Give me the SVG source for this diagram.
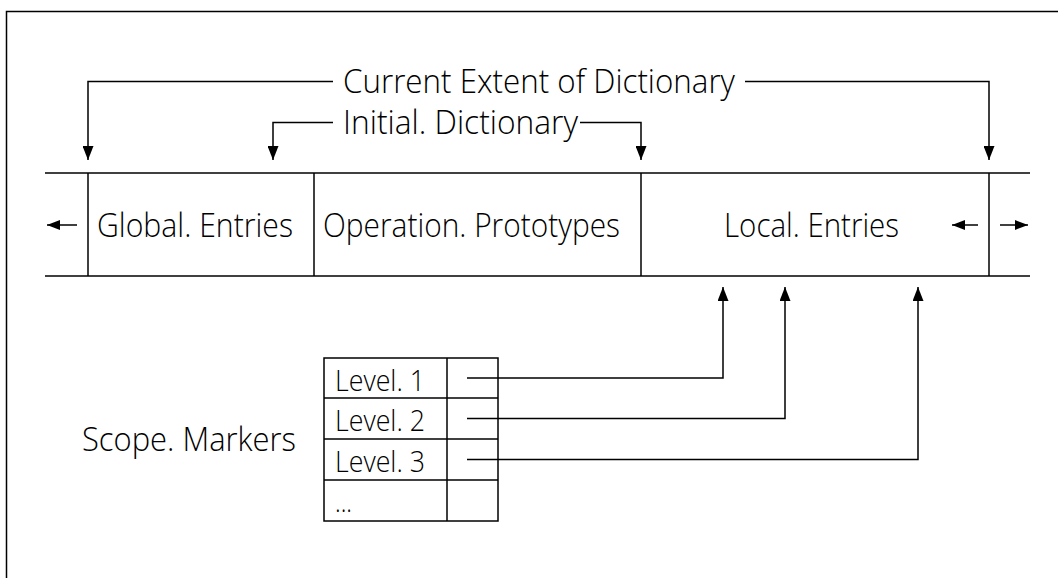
<svg xmlns="http://www.w3.org/2000/svg" width="1058" height="578" viewBox="0 0 1058 578">
<style>
.ln{stroke:#000;stroke-width:1.5;fill:none}
.tx{font-family:"Open Sans","Liberation Sans",sans-serif;font-size:33px;fill:#000;font-weight:300}
.lv{font-size:29px}
</style>
<defs>
<marker id="ah" markerWidth="14" markerHeight="11" refX="14" refY="5.5" viewBox="0 0 14 11" orient="auto" markerUnits="userSpaceOnUse">
<path d="M0,0 L14,5.5 L0,11 Z" fill="#000"/>
</marker>
<marker id="ahs" markerWidth="13" markerHeight="10" refX="13" refY="5" viewBox="0 0 13 10" orient="auto" markerUnits="userSpaceOnUse">
<path d="M0,0 L13,5 L0,10 Z" fill="#000"/>
</marker>
</defs>
<rect width="1058" height="578" fill="#fff"/>
<g id="frame">
<path class="ln" d="M6.5,578 V11.5 H1058"/>
</g>
<g id="dictionary">
<line class="ln" x1="45" y1="173" x2="1030" y2="173"/>
<line class="ln" x1="45" y1="276" x2="1030" y2="276"/>
<line class="ln" x1="88" y1="173" x2="88" y2="276"/>
<line class="ln" x1="314" y1="173" x2="314" y2="276"/>
<line class="ln" x1="641" y1="173" x2="641" y2="276" stroke-width="1"/>
<line class="ln" x1="989" y1="173" x2="989" y2="276"/>
</g>
<g id="global-entries"><text class="tx" x="97" y="237" textLength="196" lengthAdjust="spacingAndGlyphs">Global. Entries</text></g>
<g id="operation-prototypes"><text class="tx" x="323" y="237" textLength="297" lengthAdjust="spacingAndGlyphs">Operation. Prototypes</text></g>
<g id="local-entries"><text class="tx" x="724" y="237" textLength="175" lengthAdjust="spacingAndGlyphs">Local. Entries</text></g>
<g id="current-extent-label"><text class="tx" x="343" y="93" textLength="392" lengthAdjust="spacingAndGlyphs">Current Extent of Dictionary</text></g>
<g id="initial-dictionary-label"><text class="tx" x="343" y="134" textLength="235" lengthAdjust="spacingAndGlyphs">Initial. Dictionary</text></g>
<g id="scope-markers-label"><text class="tx" x="82" y="451" textLength="214" lengthAdjust="spacingAndGlyphs">Scope. Markers</text></g>
<g id="scope-table">
<rect class="ln" x="324" y="358" width="174" height="163"/>
<line class="ln" x1="447" y1="358" x2="447" y2="521"/>
<line class="ln" x1="324" y1="398" x2="498" y2="398"/>
<line class="ln" x1="324" y1="439" x2="498" y2="439"/>
<line class="ln" x1="324" y1="480" x2="498" y2="480"/>
<text class="tx lv" x="335" y="391" textLength="90" lengthAdjust="spacingAndGlyphs">Level. 1</text>
<text class="tx lv" x="335" y="431" textLength="90" lengthAdjust="spacingAndGlyphs">Level. 2</text>
<text class="tx lv" x="335" y="472" textLength="90" lengthAdjust="spacingAndGlyphs">Level. 3</text>
<text class="tx lv" x="335" y="512" textLength="17" lengthAdjust="spacingAndGlyphs">...</text>
</g>
<g id="connectors">
<path class="ln" d="M333,81.5 H88 V160" marker-end="url(#ah)"/>
<path class="ln" d="M745,81.5 H989 V160" marker-end="url(#ah)"/>
<path class="ln" d="M333,122.5 H273 V160" marker-end="url(#ah)"/>
<path class="ln" d="M580,122.5 H641 V160" marker-end="url(#ah)"/>
<path class="ln" d="M77,225 H47" marker-end="url(#ahs)"/>
<path class="ln" d="M978,225 H952" marker-end="url(#ahs)"/>
<path class="ln" d="M1000,225 H1028" marker-end="url(#ahs)"/>
<path class="ln" d="M467,378 H723 V287" marker-end="url(#ah)"/>
<path class="ln" d="M467,418.5 H785 V287" marker-end="url(#ah)"/>
<path class="ln" d="M467,459.5 H918 V287" marker-end="url(#ah)"/>
</g>
</svg>
